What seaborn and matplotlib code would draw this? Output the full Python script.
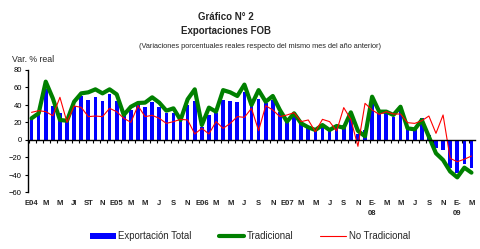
import numpy as np
import pandas as pd
import matplotlib
matplotlib.use("Agg")
import matplotlib.pyplot as plt
import matplotlib.transforms as mtransforms
from matplotlib.patches import Patch
from matplotlib.lines import Line2D
import seaborn as sns

# ---- data (Jan 2004 .. Mar 2009) ----
tick_labels = ['E04', 'M', 'M', 'Jl', 'ST', 'N', 'E05', 'M', 'M', 'J', 'S', 'N',
               'E06', 'M', 'M', 'J', 'S', 'N', 'E07', 'M', 'M', 'J', 'S', 'N',
               'E-\n08', 'M', 'M', 'J', 'S', 'N', 'E-\n09', 'M']

total = [26.3, 30.0, 57.9, 39.2, 30.5, 21.7, 39.0, 50.7, 45.7, 49.5, 45.0, 53.0,
         44.6, 28.6, 34.3, 40.0, 37.7, 43.4, 37.7, 30.5, 31.2, 24.8, 40.0, 44.6,
         15.0, 28.6, 31.2, 45.7, 44.6, 43.4, 54.9, 40.0, 46.9, 42.7, 45.7, 32.4,
         21.0, 30.5, 21.0, 15.2, 11.4, 15.2, 11.4, 13.3, 17.0, 28.6, 6.9, 11.4,
         47.6, 30.5, 32.4, 26.7, 34.3, 13.3, 13.3, 24.8, 6.0, -9.5, -11.4, -32.4,
         -37.3, -27.8, -31.6]

tradicional = [24.8, 30.5, 66.7, 47.6, 22.9, 22.0, 43.8, 53.3, 54.5, 57.9, 53.3, 57.9,
               52.2, 28.6, 38.0, 42.3, 42.7, 48.8, 42.7, 33.5, 36.2, 22.9, 46.5, 57.9,
               17.1, 37.0, 32.4, 57.0, 54.5, 50.3, 63.3, 40.0, 57.0, 43.8, 50.3, 34.3,
               21.0, 30.5, 19.0, 14.5, 11.4, 17.1, 11.4, 16.0, 14.0, 31.6, 10.5, 4.2,
               49.5, 32.4, 32.4, 28.6, 38.0, 13.3, 12.2, 22.9, 3.8, -15.2, -22.9, -36.0,
               -42.7, -31.6, -37.3]

no_tradicional = [31.6, 33.5, 32.4, 27.8, 48.8, 20.2, 38.9, 37.3, 26.7, 27.4, 26.7, 36.2,
                  32.4, 24.8, 20.2, 39.2, 26.7, 28.2, 24.8, 19.0, 21.0, 23.6, 22.9, 6.9,
                  13.3, 6.9, 21.0, 13.3, 19.0, 26.7, 25.9, 36.2, 10.7, 39.2, 34.3, 26.7,
                  28.6, 31.2, 21.0, 22.9, 9.5, 23.6, 21.0, 10.3, 37.0, 23.6, -7.2, 41.9,
                  34.3, 29.3, 32.4, 29.7, 29.7, 19.8, 19.0, 22.0, 27.4, 7.6, 28.6, -21.0,
                  -24.8, -22.0, -18.3]

n = len(total)
df = pd.DataFrame({"mes": np.arange(n), "total": total,
                   "tradicional": tradicional, "no_tradicional": no_tradicional})

sns.set_theme(style="white")
plt.rcParams['font.family'] = ['Liberation Sans', 'DejaVu Sans']

fig = plt.figure(figsize=(4.81, 2.49), dpi=100)
ax = fig.add_axes([28 / 481, 1 - 192.5 / 249, 447 / 481, 122.5 / 249])

blue, green, red = "#0000FF", "#008000", "#FF0000"
sns.barplot(data=df, x="mes", y="total", native_scale=True, width=0.52,
            color=blue, saturation=1, edgecolor="none", ax=ax, zorder=2)
sns.lineplot(data=df, x="mes", y="tradicional", color=green, linewidth=3.0,
             ax=ax, zorder=3)
sns.lineplot(data=df, x="mes", y="no_tradicional", color=red, linewidth=0.8,
             ax=ax, zorder=4)

ax.set_xlim(-0.5, n - 0.5)
ax.set_ylim(-60, 80)
ax.set_xlabel("")
ax.set_ylabel("")
ax.set_yticks(np.arange(-60, 81, 20))
ax.tick_params(axis='y', left=True, length=2.5, width=0.8, pad=2,
               labelsize=5.5, colors='black')
for s in ("top", "right"):
    ax.spines[s].set_visible(False)
ax.spines["left"].set_color("black")
ax.spines["left"].set_linewidth(1.0)
ax.spines["bottom"].set_position(("data", 0))
ax.spines["bottom"].set_color("black")
ax.spines["bottom"].set_linewidth(1.0)
ax.spines["bottom"].set_zorder(5)
ax.set_xticks(np.arange(n) - 0.35)
ax.set_xticklabels([])
ax.tick_params(axis='x', bottom=True, length=2.5, width=0.8, direction='out',
               colors='black')
ax.grid(False)

trans = mtransforms.blended_transform_factory(ax.transData, fig.transFigure)
for k, lab in enumerate(tick_labels):
    ax.text(2 * k, 1 - 200 / 249, lab, transform=trans, ha='center', va='top',
            fontsize=5.5, fontweight='bold', linespacing=1.6, clip_on=False)

fig.text(226 / 481, 1 - 17 / 249, "Gráfico N° 2", ha='center', va='center',
         fontsize=7, fontweight='bold')
fig.text(226 / 481, 1 - 31 / 249, "Exportaciones FOB", ha='center', va='center',
         fontsize=7, fontweight='bold')
fig.text(260 / 481, 1 - 46.5 / 249,
         "(Variaciones porcentuales reales respecto del mismo mes del año anterior)",
         ha='center', va='center', fontsize=5.3)
fig.text(12 / 481, 1 - 60 / 249, "Var. % real", ha='left', va='center', fontsize=6.3)

handles = [Patch(facecolor=blue, edgecolor='none'),
           Line2D([], [], color=green, linewidth=3.0),
           Line2D([], [], color=red, linewidth=0.8)]
fig.legend(handles, ["Exportación Total", "Tradicional", "No Tradicional"],
           loc='center', bbox_to_anchor=(250 / 481, 1 - 236 / 249), ncol=3,
           frameon=False, fontsize=6.9, handlelength=2.7, handleheight=0.6,
           handletextpad=0.25, columnspacing=2.8)

fig.savefig("out.png", dpi=100)
